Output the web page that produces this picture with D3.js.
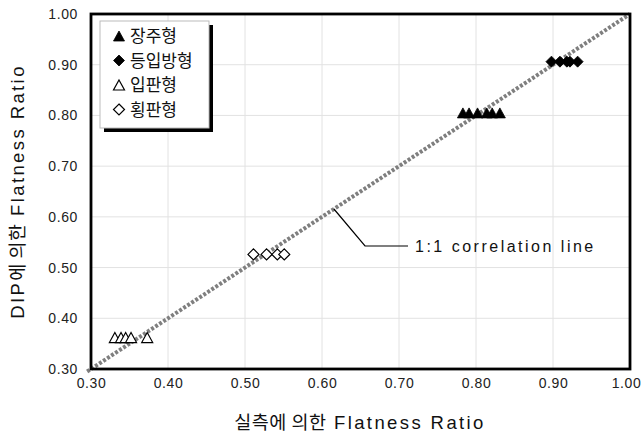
<!DOCTYPE html>
<html><head><meta charset="utf-8">
<script src="https://cdn.jsdelivr.net/npm/d3@7"></script>
<style>
body{margin:0;background:#fff;}
text{font-family:"Liberation Sans","Noto Sans CJK KR",Arial,sans-serif;}
</style></head>
<body><svg id="c" width="641" height="434"></svg>
<script>
const seriesNames = ["장주형","등입방형","입판형","횡판형"];
const jangjuX = [0.783,0.791,0.802,0.814,0.821,0.831];
const jangjuY = [0.805,0.805,0.805,0.805,0.805,0.805];
const deungipX = [0.898,0.909,0.918,0.922,0.932];
const deungipY = [0.906,0.906,0.906,0.906,0.906];
const ippanX = [0.331,0.339,0.345,0.352,0.373];
const ippanY = [0.362,0.362,0.362,0.362,0.362];
const hoengpanX = [0.511,0.528,0.542,0.551];
const hoengpanY = [0.526,0.526,0.526,0.526];
const ticks = [0.3,0.4,0.5,0.6,0.7,0.8,0.9,1.0];
const xTitleParts = [["실측에 의한",false],["\u00a0Flatness Ratio",true]];
const yTitleParts = [["DIP",true],["에 의한",false],["\u00a0Flatness Ratio",true]];
const annText = "1:1 correlation line";

const svg = d3.select("#c");
const L=91,R=630,T=14,B=369;
const x = d3.scaleLinear().domain([0.3,1.0]).range([L,R]);
const y = d3.scaleLinear().domain([0.3,1.0]).range([B,T]);

// grid
const g = svg.append("g");
g.selectAll(".gx").data(ticks).enter().append("line")
  .attr("x1",d=>x(d)).attr("x2",d=>x(d)).attr("y1",T).attr("y2",B)
  .attr("stroke","#e2e2e2").attr("stroke-width",1);
g.selectAll(".gy").data(ticks).enter().append("line")
  .attr("y1",d=>y(d)).attr("y2",d=>y(d)).attr("x1",L).attr("x2",R)
  .attr("stroke","#e2e2e2").attr("stroke-width",1);

// axes labels
const xa = d3.axisBottom(x).tickValues(ticks).tickFormat(d3.format(".2f")).tickSize(0).tickPadding(9);
const xg = svg.append("g").attr("transform",`translate(0,${B})`).call(xa);
xg.select(".domain").remove();
xg.selectAll("text").attr("font-size",14).attr("fill","#222").attr("letter-spacing",0.6)
  .style("font-family",'"Liberation Sans",Arial,sans-serif')
  .attr("dx",d=>d===1.0?-4:0);
const ya = d3.axisLeft(y).tickValues(ticks).tickFormat(d3.format(".2f")).tickSize(0).tickPadding(13);
const yg = svg.append("g").attr("transform",`translate(${L},0)`).call(ya);
yg.select(".domain").remove();
yg.selectAll("text").attr("font-size",14).attr("fill","#222").attr("letter-spacing",0.6)
  .style("font-family",'"Liberation Sans",Arial,sans-serif');

// diagonal 1:1 line
svg.append("line").attr("x1",x(0.295)).attr("y1",y(0.295)).attr("x2",x(1.0)).attr("y2",y(1.0))
  .attr("stroke","#7f7f7f").attr("stroke-width",4).attr("stroke-dasharray","3 1.8");

// markers
function tri(cx,cy){const w=5.5,h=10;return `M${cx},${cy-h/2}L${cx+w},${cy+h/2}L${cx-w},${cy+h/2}Z`;}
function dia(cx,cy){const r=5.5;return `M${cx},${cy-r}L${cx+r},${cy}L${cx},${cy+r}L${cx-r},${cy}Z`;}
function plot(xs,ys,shape,filled){
  svg.append("g").selectAll("path").data(xs).enter().append("path")
   .attr("d",(d,i)=>shape(x(d),y(ys[i])))
   .attr("fill",filled?"#000":"#fff").attr("stroke","#000").attr("stroke-width",filled?0.8:1.2);
}
plot(jangjuX,jangjuY,tri,true);
plot(deungipX,deungipY,dia,true);
plot(ippanX,ippanY,tri,false);
plot(hoengpanX,hoengpanY,dia,false);

// frame
svg.append("rect").attr("x",L).attr("y",T).attr("width",R-L).attr("height",B-T)
  .attr("fill","none").attr("stroke","#000").attr("stroke-width",2.8);

// annotation
const ax0=x(0.6155), ay0=y(0.6155);
svg.append("polyline").attr("points",`${ax0},${ay0} ${365},${246} ${408},${246}`)
  .attr("fill","none").attr("stroke","#000").attr("stroke-width",1.2);
svg.append("text").attr("x",415).attr("y",252).attr("font-size",16).attr("letter-spacing",2.5)
  .attr("fill","#111").text(annText);

// legend
svg.append("rect").attr("x",104).attr("y",25).attr("width",109).attr("height",107).attr("fill","#000");
svg.append("rect").attr("x",100).attr("y",21).attr("width",109).attr("height",107)
  .attr("fill","#fff").attr("stroke","#bbb").attr("stroke-width",1);
const shapes=[[tri,true],[dia,true],[tri,false],[dia,false]];
const lg = svg.append("g");
seriesNames.forEach((n,i)=>{
  const cy=36+i*24.5;
  lg.append("path").attr("d",shapes[i][0](119,cy)).attr("fill",shapes[i][1]?"#000":"#fff")
    .attr("stroke","#000").attr("stroke-width",shapes[i][1]?0.8:1.2);
  lg.append("text").attr("x",130).attr("y",cy+6).attr("font-size",17).attr("fill","#111")
    .style("font-family",'"Noto Sans CJK KR",sans-serif').text(n);
});

// titles
function title(sel,parts){
  parts.forEach(([t,latin])=>{
    sel.append("tspan").attr("letter-spacing",latin?2.4:0.5)
      .style("font-family",latin?'"Liberation Sans",Arial,sans-serif':'"Noto Sans CJK KR",sans-serif')
      .text(t);
  });
}
const xt = svg.append("text").attr("x",360).attr("y",429).attr("text-anchor","middle").attr("font-size",18.5)
  .attr("fill","#111");
title(xt,xTitleParts);
const yt = svg.append("text").attr("transform",`translate(24,${(T+B)/2}) rotate(-90)`).attr("text-anchor","middle")
  .attr("font-size",18.5).attr("fill","#111");
title(yt,yTitleParts);
</script></body></html>
